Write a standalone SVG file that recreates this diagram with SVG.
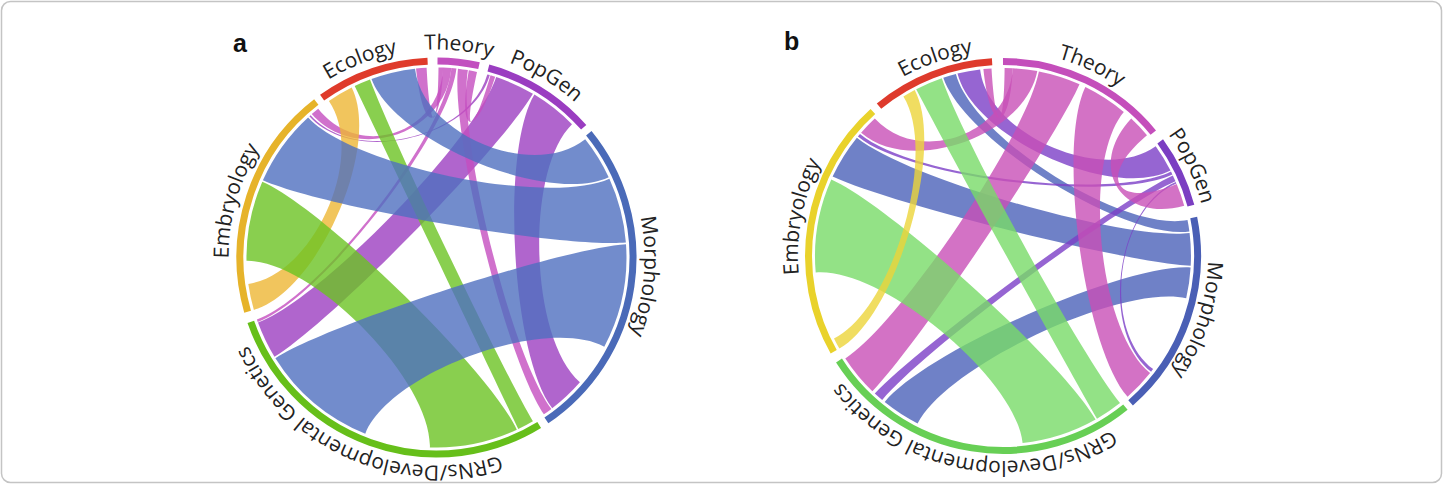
<svg xmlns="http://www.w3.org/2000/svg" width="1443" height="484" viewBox="0 0 1443 484">
<style>
.arc{fill:none;stroke-width:7}
.rib{fill-opacity:0.8;stroke:none}
.lbl{font-family:"Open Sans","Liberation Sans",sans-serif;font-size:21px;fill:#222}
.pl{font-family:"Liberation Sans",Arial,sans-serif;font-size:25px;font-weight:bold;fill:#111}
.y1{fill:#edb734}.g1{fill:#6cc323}.b1{fill:#4f6fbf}.p1{fill:#9c3fc0}.m1{fill:#c44dbf}
.y2{fill:#ecd53a}.g2{fill:#78db68}.b2{fill:#4b62b9}.p2{fill:#7c3fc7}.m2{fill:#c84fb7}
</style>
<defs>
<path id="ca" d="M583.58,404.58 A208,208 0 1 1 289.42,110.42 A208,208 0 1 1 583.58,404.58"/>
<path id="cb" d="M1147.96,400.96 A205,205 0 1 1 858.04,111.04 A205,205 0 1 1 1147.96,400.96"/>
</defs>
<rect x="1.5" y="1.5" width="1440" height="481" rx="9" fill="#fff" stroke="#c4c4c4" stroke-width="1.5"/>
<text class="pl" x="233" y="52">a</text>
<text class="pl" x="784" y="50">b</text>

<g id="connectors-a">
<path class="rib p1" d="M496.2,77.1 A190,190 0 0 1 532.9,93.8 C499.2,151.1 331.2,322.0 274.5,356.8 A190,190 0 0 1 258.0,322.5 C320.4,299.7 475.3,140.2 496.2,77.1Z"/>
<path class="rib p1" d="M534.4,94.6 A190,190 0 0 1 572.0,124.3 C524.6,170.9 529.7,338.5 579.9,382.2 A190,190 0 0 1 552.2,408.2 C511.7,355.5 500.1,151.6 534.4,94.6Z"/>
<path class="rib p1" d="M487.3,74.4 A190,190 0 0 1 489.8,75.1 C471.2,139.0 353.9,165.7 309.4,116.3 A190,190 0 0 1 310.6,115.2 C354.7,165.0 469.5,138.5 487.3,74.4Z"/>
<path class="rib m1" d="M458.0,68.7 A190,190 0 0 1 467.9,70.1 C456.9,135.7 511.2,355.9 551.4,408.9 A190,190 0 0 1 543.9,414.3 C506.3,359.4 450.5,134.8 458.0,68.7Z"/>
<path class="rib m1" d="M451.4,68.1 A190,190 0 0 1 456.4,68.5 C449.4,134.7 320.3,299.3 257.7,321.9 A190,190 0 0 1 256.9,319.4 C319.7,297.7 446.2,134.4 451.4,68.1Z"/>
<path class="rib m1" d="M443.1,67.6 A190,190 0 0 1 451.4,68.1 C446.2,134.4 355.5,164.3 311.8,114.1 A190,190 0 0 1 318.2,108.8 C359.6,160.8 440.8,134.1 443.1,67.6Z"/>
<path class="rib m1" d="M416.0,68.6 A190,190 0 0 1 426.6,67.8 C430.0,134.2 437.8,134.0 438.5,67.5 A190,190 0 0 1 443.1,67.6 C440.8,134.1 423.2,134.7 416.0,68.6Z"/>
<path class="rib m1" d="M468.8,70.3 A190,190 0 0 1 477.0,71.9 C462.8,136.8 471.6,139.1 490.5,75.3 A190,190 0 0 1 495.2,76.8 C474.7,140.0 457.5,135.8 468.8,70.3Z"/>
<path class="rib y1" d="M328.9,100.9 A190,190 0 0 1 351.7,87.5 C381.4,147.0 317.8,291.5 253.9,309.9 A190,190 0 0 1 248.3,283.9 C314.2,274.7 366.6,155.7 328.9,100.9Z"/>
<path class="rib g1" d="M246.5,260.8 A190,190 0 0 1 262.3,181.7 C323.2,208.3 488.7,369.4 516.8,429.7 A190,190 0 0 1 429.9,447.4 C432.2,380.9 313.0,259.7 246.5,260.8Z"/>
<path class="rib g1" d="M354.7,86.0 A190,190 0 0 1 370.0,79.5 C393.3,141.8 499.2,363.9 532.9,421.2 A190,190 0 0 1 518.3,429.0 C489.7,369.0 383.3,146.0 354.7,86.0Z"/>
<path class="rib b1" d="M371.5,79.0 A190,190 0 0 1 415.0,68.7 C422.5,134.8 533.2,180.6 585.2,139.2 A190,190 0 0 1 608.7,177.2 C548.4,205.3 394.3,141.4 371.5,79.0Z"/>
<path class="rib b1" d="M262.9,180.2 A190,190 0 0 1 308.1,117.4 C353.1,166.4 548.9,206.3 609.4,178.7 A190,190 0 0 1 625.9,242.6 C559.6,247.8 323.7,207.3 262.9,180.2Z"/>
<path class="rib b1" d="M365.3,433.7 A190,190 0 0 1 275.4,358.2 C331.8,322.9 559.7,248.9 626.0,244.2 A190,190 0 0 1 604.3,346.7 C545.5,315.5 390.2,372.0 365.3,433.7Z"/>
</g>

<g id="a-ecology"><path class="arc" stroke="#df3b2b" d="M322.1,97.7 A196.5,196.5 0 0 1 427.6,61.2"/><text class="lbl" text-anchor="middle"><textPath href="#ca" startOffset="739.9">Ecology</textPath></text></g>
<g id="a-theory"><path class="arc" stroke="#c24fbf" d="M437.5,61.0 A196.5,196.5 0 0 1 479.0,65.7"/><text class="lbl" text-anchor="middle"><textPath href="#ca" startOffset="838.6">Theory</textPath></text></g>
<g id="a-popgen"><path class="arc" stroke="#9a3dc1" d="M488.4,68.0 A196.5,196.5 0 0 1 583.7,127.3"/><text class="lbl" text-anchor="middle"><textPath href="#ca" startOffset="929.4">PopGen</textPath></text></g>
<g id="a-morphology"><path class="arc" stroke="#4a6ab8" d="M588.8,133.3 A196.5,196.5 0 0 1 546.4,420.4"/><text class="lbl" text-anchor="middle"><textPath href="#ca" startOffset="1161.7">Morphology</textPath></text></g>
<g id="a-grns"><path class="arc" stroke="#66bf1a" d="M539.2,425.0 A196.5,196.5 0 0 1 250.8,321.8"/><text class="lbl" text-anchor="middle"><textPath href="#ca" startOffset="249.0">GRNs/Developmental Genetics</textPath></text></g>
<g id="a-embryology"><path class="arc" stroke="#e6b32a" d="M247.6,311.7 A196.5,196.5 0 0 1 316.3,102.0"/><text class="lbl" text-anchor="middle"><textPath href="#ca" startOffset="546.7">Embryology</textPath></text></g>

<g id="connectors-b">
<path class="rib b2" d="M943.3,77.7 A188,188 0 0 1 955.9,74.0 C972.4,137.7 1123.0,232.7 1187.5,220.1 A188,188 0 0 1 1189.4,231.5 C1124.1,240.1 964.2,140.1 943.3,77.7Z"/>
<path class="rib b2" d="M832.6,176.6 A188,188 0 0 1 856.9,137.7 C908.0,179.1 1124.3,241.1 1189.6,233.1 A188,188 0 0 1 1190.7,265.8 C1125.0,262.4 892.2,204.4 832.6,176.6Z"/>
<path class="rib b2" d="M917.6,423.5 A188,188 0 0 1 884.7,402.1 C926.1,351.0 1125.0,263.5 1190.6,267.5 A188,188 0 0 1 1186.2,298.3 C1122.1,283.5 947.5,364.9 917.6,423.5Z"/>
<path class="rib p2" d="M957.5,73.6 A188,188 0 0 1 980.1,69.4 C988.1,134.7 1102.2,184.7 1155.7,146.3 A188,188 0 0 1 1170.5,170.6 C1111.9,200.5 973.4,137.4 957.5,73.6Z"/>
<path class="rib p2" d="M1171.0,171.5 A188,188 0 0 1 1172.4,174.5 C1113.1,203.0 908.7,178.3 857.9,136.4 A188,188 0 0 1 860.0,133.9 C910.1,176.6 1112.2,201.1 1171.0,171.5Z"/>
<path class="rib p2" d="M1172.8,175.4 A188,188 0 0 1 1175.5,181.3 C1115.2,207.5 924.4,349.6 882.2,400.0 A188,188 0 0 1 874.8,393.5 C919.7,345.4 1113.4,203.6 1172.8,175.4Z"/>
<path class="rib p2" d="M1175.8,181.9 A188,188 0 0 1 1176.4,183.5 C1115.7,208.8 1100.6,329.5 1153.1,369.1 A188,188 0 0 1 1151.1,371.8 C1099.3,331.2 1115.3,207.9 1175.8,181.9Z"/>
<path class="rib m2" d="M983.4,69.0 A188,188 0 0 1 991.5,68.4 C995.5,134.0 1004.1,133.8 1004.6,68.0 A188,188 0 0 1 1012.8,68.3 C1009.4,134.0 990.2,134.5 983.4,69.0Z"/>
<path class="rib m2" d="M1012.8,68.3 A188,188 0 0 1 1037.3,71.1 C1025.3,135.8 910.8,175.8 861.1,132.7 A188,188 0 0 1 874.8,118.5 C919.7,166.6 1009.4,134.0 1012.8,68.3Z"/>
<path class="rib m2" d="M1038.9,71.5 A188,188 0 0 1 1079.5,84.3 C1052.7,144.4 918.1,343.9 872.4,391.2 A188,188 0 0 1 845.3,358.4 C900.5,322.5 1026.3,136.0 1038.9,71.5Z"/>
<path class="rib m2" d="M1085.4,87.0 A188,188 0 0 1 1123.8,112.0 C1081.6,162.4 1098.6,332.1 1150.1,373.0 A188,188 0 0 1 1127.6,396.8 C1084.0,347.5 1056.6,146.2 1085.4,87.0Z"/>
<path class="rib m2" d="M1131.2,118.5 A188,188 0 0 1 1147.0,135.2 C1096.6,177.4 1115.9,209.2 1176.7,184.1 A188,188 0 0 1 1184.2,205.8 C1120.8,223.3 1086.3,166.6 1131.2,118.5Z"/>
<path class="rib g2" d="M815.7,272.4 A188,188 0 0 1 831.3,179.5 C891.4,206.3 1063.2,362.4 1095.6,419.6 A188,188 0 0 1 1022.6,443.0 C1015.8,377.5 881.3,266.7 815.7,272.4Z"/>
<path class="rib g2" d="M916.2,89.2 A188,188 0 0 1 941.8,78.2 C963.2,140.5 1079.1,351.6 1120.0,403.1 A188,188 0 0 1 1097.0,418.8 C1064.1,361.8 946.6,147.6 916.2,89.2Z"/>
<path class="rib y2" d="M903.4,96.6 A188,188 0 0 1 914.7,90.0 C945.6,148.1 896.6,316.2 839.4,348.6 A188,188 0 0 1 834.0,338.4 C893.2,309.6 938.2,152.4 903.4,96.6Z"/>
</g>

<g id="b-ecology"><path class="arc" stroke="#de3a2c" d="M879.0,106.1 A194.5,194.5 0 0 1 992.1,61.8"/><text class="lbl" text-anchor="middle"><textPath href="#cb" startOffset="737.4">Ecology</textPath></text></g>
<g id="b-theory"><path class="arc" stroke="#c44ebb" d="M1003,61.5 A194.5,194.5 0 0 1 1153.3,132.6"/><text class="lbl" text-anchor="middle"><textPath href="#cb" startOffset="894.5">Theory</textPath></text></g>
<g id="b-popgen"><path class="arc" stroke="#7b3ec2" d="M1160.2,141.4 A194.5,194.5 0 0 1 1190.9,205.7"/><text class="lbl" text-anchor="middle"><textPath href="#cb" startOffset="1035.9">PopGen</textPath></text></g>
<g id="b-morphology"><path class="arc" stroke="#4a5fb5" d="M1193.7,217.5 A194.5,194.5 0 0 1 1130.6,402.8"/><text class="lbl" text-anchor="middle"><textPath href="#cb" startOffset="1191.5">Morphology</textPath></text></g>
<g id="b-grns"><path class="arc" stroke="#67cf55" d="M1125.4,407.1 A194.5,194.5 0 0 1 839.0,360.5"/><text class="lbl" text-anchor="middle"><textPath href="#cb" startOffset="196.8">GRNs/Developmental Genetics</textPath></text></g>
<g id="b-embryology"><path class="arc" stroke="#e9d22b" d="M833.7,351.8 A194.5,194.5 0 0 1 872.9,111.5"/><text class="lbl" text-anchor="middle"><textPath href="#cb" startOffset="522.4">Embryology</textPath></text></g>
</svg>
